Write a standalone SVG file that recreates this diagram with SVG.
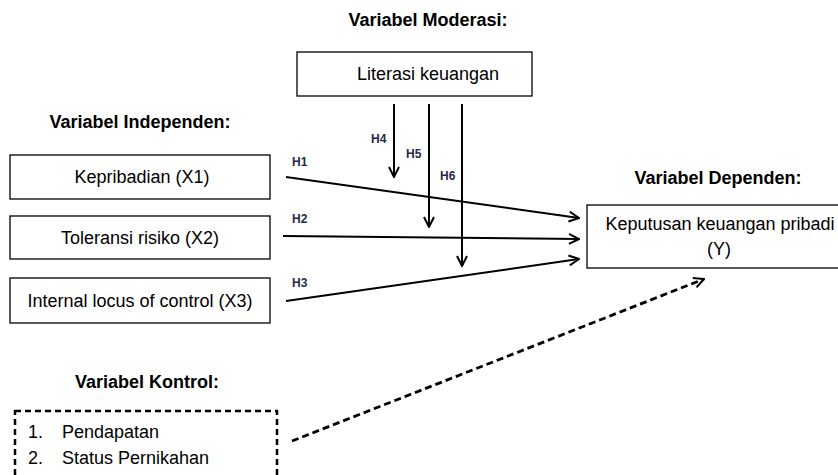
<svg xmlns="http://www.w3.org/2000/svg" width="838" height="475" viewBox="0 0 838 475">
<defs>
<marker id="ah" viewBox="0 0 12 12" refX="11" refY="6" markerWidth="12" markerHeight="12" markerUnits="userSpaceOnUse" orient="auto">
<path d="M1,1 L11,6 L1,11" fill="none" stroke="#000" stroke-width="2"/>
</marker>
</defs>
<style>
.box{fill:#fff;stroke:#000;stroke-width:1.3}
.dbox{fill:#fff;stroke:#000;stroke-width:2.5;stroke-dasharray:6 4}
.t{font-family:"Liberation Sans",Arial,sans-serif;font-size:18px;fill:#000}
.h{font-family:"Liberation Sans",Arial,sans-serif;font-size:18px;font-weight:bold;fill:#000}
.lab{font-family:"Liberation Sans",Arial,sans-serif;font-size:12px;font-weight:bold;fill:#1f2a4a}
.c{fill:none;stroke:#000;stroke-width:2}
.cd{fill:none;stroke:#000;stroke-width:2.8;stroke-dasharray:7 4}
</style>
<rect width="838" height="475" fill="#fff"/>
<text class="h" x="428" y="26" text-anchor="middle">Variabel Moderasi:</text>
<text class="h" x="140" y="128" text-anchor="middle">Variabel Independen:</text>
<text class="h" x="718" y="184" text-anchor="middle">Variabel Dependen:</text>
<text class="h" x="147" y="388" text-anchor="middle">Variabel Kontrol:</text>
<g id="moderasi">
<rect class="box" x="297" y="52" width="235" height="44"/>
<text class="t" x="428" y="80" text-anchor="middle">Literasi keuangan</text>
</g>
<g id="x1">
<rect class="box" x="10" y="155" width="260" height="44"/>
<text class="t" x="142" y="183" text-anchor="middle">Kepribadian (X1)</text>
</g>
<g id="x2">
<rect class="box" x="10" y="216" width="260" height="43"/>
<text class="t" x="140" y="244" text-anchor="middle">Toleransi risiko (X2)</text>
</g>
<g id="x3">
<rect class="box" x="10" y="278" width="260" height="45"/>
<text class="t" x="140" y="307" text-anchor="middle">Internal locus of control (X3)</text>
</g>
<g id="y">
<rect class="box" x="587" y="205" width="262" height="63"/>
<text class="t" x="720" y="230" text-anchor="middle">Keputusan keuangan pribadi</text>
<text class="t" x="719" y="255" text-anchor="middle">(Y)</text>
</g>
<g id="kontrol">
<rect class="dbox" x="15" y="411" width="262" height="80"/>
<text class="t" x="28" y="438">1.</text>
<text class="t" x="62" y="438">Pendapatan</text>
<text class="t" x="28" y="464">2.</text>
<text class="t" x="62" y="464">Status Pernikahan</text>
</g>
<g id="connectors">
<line class="c" x1="286" y1="177" x2="579" y2="218" marker-end="url(#ah)"/>
<line class="c" x1="283" y1="236" x2="579" y2="239" marker-end="url(#ah)"/>
<line class="c" x1="286" y1="301" x2="579" y2="259" marker-end="url(#ah)"/>
<line class="c" x1="394" y1="104" x2="394" y2="177" marker-end="url(#ah)"/>
<line class="c" x1="429" y1="104" x2="429" y2="227" marker-end="url(#ah)"/>
<line class="c" x1="462" y1="104" x2="462" y2="266" marker-end="url(#ah)"/>
<line class="cd" x1="292" y1="441" x2="704" y2="279" marker-end="url(#ah)"/>
<text class="lab" x="292" y="166">H1</text>
<text class="lab" x="292" y="223">H2</text>
<text class="lab" x="292" y="287">H3</text>
<text class="lab" x="371" y="143">H4</text>
<text class="lab" x="406" y="158">H5</text>
<text class="lab" x="440" y="180">H6</text>
</g>
</svg>
